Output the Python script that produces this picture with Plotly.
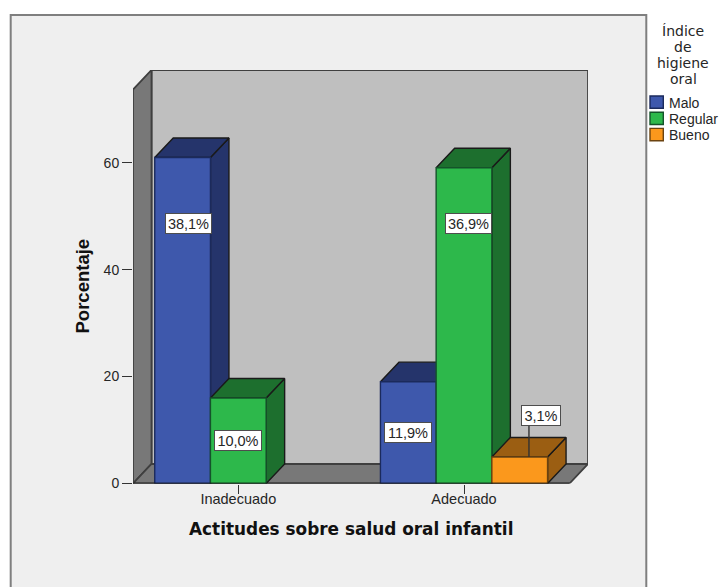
import plotly.graph_objects as go

# Survey results: percentage of respondents by attitude and oral hygiene index
categories = ["Inadecuado", "Adecuado"]
series_names = ["Malo", "Regular", "Bueno"]
malo = [38.1, 11.9]
regular = [10.0, 36.9]
bueno = [None, 3.1]
respondents = 160  # the value axis is scaled to this sample size
y_ticks = [0, 20, 40, 60]
legend_title_lines = ["Índice", "de", "higiene", "oral"]

W, H = 728, 587
SANS = "Liberation Sans, Arial, sans-serif"
INK = "#262626"
EDGE = "#1a1a1a"
FRONT = ["#3e58ac", "#2db84b", "#fb981c"]
SHADE = ["#25346b", "#1d6f2e", "#9b5e12"]
BORDER = ["#1b2a5c", "#14532a", "#6b4310"]

# Plot area in pixels, and the 3D extrusion expressed in axis units
LEFT, RIGHT, TOP, BASE = 133.0, 588.0, 70.0, 483.5
X_RANGE = [-0.4665, 1.5494]
Y_RANGE = [0, 77.33]
DX, DY = 0.082, 3.65
BAR_W = 0.2468


def px(v):
    return v / W


def py(v):
    return 1 - v / H


def face(points, fill, line=EDGE, width=1.5, z=0):
    xs = [p[0] for p in points] + [points[0][0]]
    ys = [p[1] for p in points] + [points[0][1]]
    return go.Scatter(
        x=xs, y=ys, mode="lines", fill="toself", fillcolor=fill,
        line=dict(color=line, width=width), hoverinfo="skip",
        showlegend=False, cliponaxis=False, zorder=z,
    )


fig = go.Figure()

# Chart box walls
x0, x1 = X_RANGE
y0, y1 = Y_RANGE
WALL = "#3f3f3f"
fig.add_trace(face([(x0 + DX, y0 + DY), (x1, y0 + DY), (x1, y1), (x0 + DX, y1)], "#bfbfbf", WALL, 1.8, 0))
fig.add_trace(face([(x0, y0), (x0 + DX, y0 + DY), (x0 + DX, y1), (x0, y1 - DY)], "#787878", WALL, 1.8, 0))
fig.add_trace(face([(x0, y0), (x1 - DX, y0), (x1, y0 + DY), (x0 + DX, y0 + DY)], "#787878", WALL, 1.8, 0))

# Extruded bars, painted left to right so nearer faces cover earlier ones
bars = []
for c in range(len(categories)):
    for s, values in enumerate([malo, regular, bueno]):
        if values[c] is not None:
            bars.append((c + (s - 1) * BAR_W, values[c] * respondents / 100, s))

z = 1
for xc, h, s in bars:
    l, r = xc - BAR_W / 2, xc + BAR_W / 2
    fig.add_trace(face([(r, 0), (r + DX, DY), (r + DX, h + DY), (r, h)], SHADE[s], EDGE, 1.4, z))
    fig.add_trace(face([(l, h), (r, h), (r + DX, h + DY), (l + DX, h + DY)], SHADE[s], EDGE, 1.4, z))
    fig.add_trace(go.Bar(
        x=[xc], y=[h], width=BAR_W, marker=dict(color=FRONT[s], line=dict(color=BORDER[s], width=1.4)),
        showlegend=False, hoverinfo="skip", zorder=z + 1,
    ))
    z += 2

# Floor edge on top of the bar bases
fig.add_trace(go.Scatter(
    x=[x0, x1 - DX], y=[0, 0], mode="lines", line=dict(color="#111111", width=1.6),
    hoverinfo="skip", showlegend=False, cliponaxis=False, zorder=z,
))

# Value labels, placed by hand in pixels: (text value, centre x, centre y, width)
label_boxes = [
    (malo[0], 188.3, 223.5, 47),
    (regular[0], 238.3, 440.5, 48),
    (malo[1], 408.3, 432.5, 48),
    (regular[1], 468.0, 223.5, 47),
    (bueno[1], 540.5, 415.0, 40),
]
annotations = []
for value, cx, cy, w in label_boxes:
    annotations.append(dict(
        xref="paper", yref="paper", x=px(cx), y=py(cy), showarrow=False,
        text=f"{value:.1f}%".replace(".", ","), font=dict(family=SANS, size=14.5, color=INK),
        bgcolor="white", bordercolor="#4d4d4d", borderwidth=1, borderpad=0,
        width=w - 2, height=19, xanchor="center", yanchor="middle",
    ))

# Leader line from the smallest bar's top face up to its label
xc, h, s = bars[-1]
label_floor = (BASE - (415.0 + 10.5)) / ((BASE - TOP) / y1)
fig.add_trace(go.Scatter(
    x=[xc + DX / 2, xc + DX / 2], y=[h, label_floor], mode="lines",
    line=dict(color="#333333", width=1.4), hoverinfo="skip", showlegend=False, zorder=z + 1,
))

# Axis titles
annotations.append(dict(
    xref="paper", yref="paper", x=px(351), y=py(528.5), showarrow=False,
    text="<b>Actitudes sobre salud oral infantil</b>",
    font=dict(family="DejaVu Sans, Verdana, sans-serif", size=16.9, color="#111111"),
    xanchor="center", yanchor="middle",
))
annotations.append(dict(
    xref="paper", yref="paper", x=px(82), y=py(286.5), showarrow=False, textangle=-90,
    text="<b>Porcentaje</b>", font=dict(family=SANS, size=18.5, color="#111111"),
    xanchor="center", yanchor="middle",
))

# Legend block to the right of the frame; titled line by line for tight leading
for i, line in enumerate(legend_title_lines):
    annotations.append(dict(
        xref="paper", yref="paper", x=px(683), y=py(31 + i * 16), showarrow=False,
        text=line, font=dict(family="DejaVu Sans, sans-serif", size=14, color=INK),
        xanchor="center", yanchor="middle",
    ))

# Frame panel: open along the lower page edge
FRAME_L, FRAME_R, FRAME_T = px(10.7), px(646.3), py(15)
shapes = [
    dict(type="rect", xref="paper", yref="paper", layer="below",
         x0=FRAME_L, x1=FRAME_R, y0=0, y1=FRAME_T,
         fillcolor="#efefef", line=dict(width=0)),
    dict(type="path", xref="paper", yref="paper", layer="below",
         path=f"M {FRAME_L},0 L {FRAME_L},{FRAME_T} L {FRAME_R},{FRAME_T} L {FRAME_R},0",
         line=dict(color="#7f7f7f", width=2)),
]
for i, name in enumerate(series_names):
    top = 96 + i * 16.2
    shapes.append(dict(
        type="rect", xref="paper", yref="paper",
        x0=px(650), x1=px(663.3), y0=py(top + 12.3), y1=py(top),
        fillcolor=FRONT[i], line=dict(color=BORDER[i], width=1.4),
    ))
    annotations.append(dict(
        xref="paper", yref="paper", x=px(666.7), y=py(top + 6.7), showarrow=False,
        text=name, font=dict(family=SANS, size=14, color=INK),
        xanchor="left", yanchor="middle",
    ))

fig.update_layout(
    width=W, height=H, margin=dict(l=0, r=0, t=0, b=0),
    paper_bgcolor="white", plot_bgcolor="rgba(0,0,0,0)",
    showlegend=False, barmode="overlay",
    shapes=shapes, annotations=annotations,
    xaxis=dict(
        domain=[px(LEFT), px(RIGHT)], range=X_RANGE, tickmode="array", automargin=False,
        tickvals=list(range(len(categories))), ticktext=categories,
        ticks="outside", ticklen=9, tickwidth=1.4, tickcolor="#333333",
        ticklabelstandoff=-7,
        tickfont=dict(family=SANS, size=14.5, color=INK),
        showgrid=False, zeroline=False, showline=False,
    ),
    yaxis=dict(
        domain=[py(BASE), py(TOP)], range=Y_RANGE, tickmode="array", automargin=False,
        tickvals=y_ticks, ticks="outside", ticklen=10, tickwidth=1.4, tickcolor="#333333",
        tickfont=dict(family=SANS, size=14, color=INK),
        showgrid=False, zeroline=False, showline=False,
    ),
)

fig.write_html("out.html")
